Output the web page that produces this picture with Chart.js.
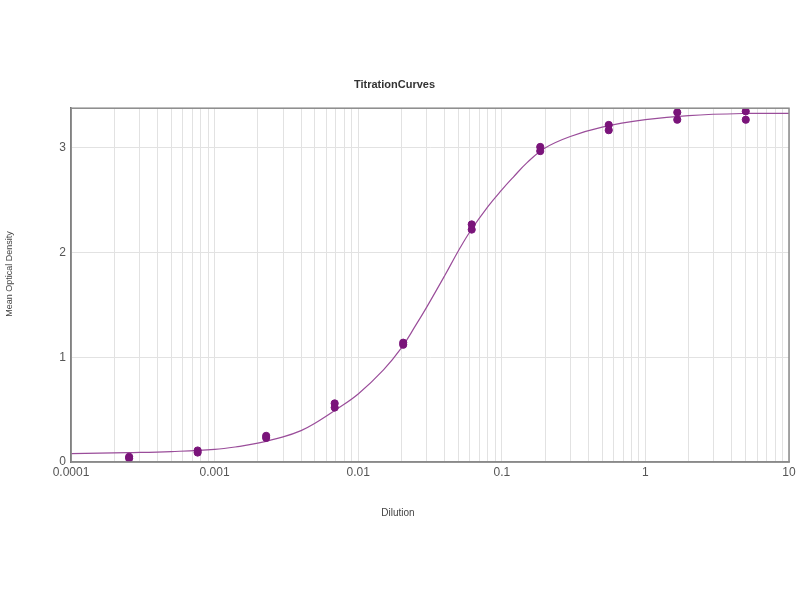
<!DOCTYPE html>
<html>
<head>
<meta charset="utf-8">
<script src="https://cdn.jsdelivr.net/npm/chart.js@4/dist/chart.umd.min.js"></script>
<style>
  html, body { margin:0; padding:0; background:#fff; }
  #wrap { width:800px; height:600px; }
</style>
</head>
<body>
<div id="wrap"><canvas id="c" width="800" height="600"></canvas></div>
<script>
// dilution series (1:3) and the two replicate ODs
const dilutions = [5, 1.667, 0.5556, 0.1852, 0.06173, 0.02058, 0.006859, 0.002286, 0.000762, 0.000254];
const rep1 = [3.35, 3.34, 3.22, 3.01, 2.27, 1.14, 0.56, 0.25, 0.11, 0.05];
const rep2 = [3.27, 3.27, 3.17, 2.97, 2.22, 1.12, 0.52, 0.23, 0.09, 0.035];

// fitted curve
const curveX = [0.0001, 0.00025, 0.0005, 0.001, 0.0015, 0.002, 0.003, 0.004, 0.005, 0.007, 0.01, 0.015, 0.02, 0.025, 0.03, 0.04, 0.05, 0.06, 0.08, 0.1, 0.12, 0.15, 0.2, 0.3, 0.5, 1, 2, 5, 10];
const curveY = [0.08, 0.09, 0.10, 0.12, 0.15, 0.18, 0.24, 0.30, 0.37, 0.50, 0.65, 0.88, 1.09, 1.30, 1.48, 1.78, 2.02, 2.20, 2.44, 2.60, 2.72, 2.86, 3.00, 3.11, 3.20, 3.27, 3.31, 3.33, 3.33];

const decades = [0.0001, 0.001, 0.01, 0.1, 1, 10];
const yTicks = [0, 1, 2, 3];

const points = [];
dilutions.forEach((d,i)=>{
  points.push({x:d, y:rep1[i]});
  points.push({x:d, y:rep2[i]});
});
const curve = curveX.map((x,i)=>({x, y:curveY[i]}));

// grid values: 1..9 in every decade
const gridVals = [];
decades.forEach((d,i)=>{
  if (i === decades.length-1) { gridVals.push(d); return; }
  for (let k=1;k<10;k++) gridVals.push(+(k*d).toPrecision(3));
});

const FONT = 'Liberation Sans, Arial, sans-serif';

// box round the plot plus the two axis titles
const frame = {
  id:'frame',
  afterDatasetsDraw(chart){
    const {ctx, chartArea:a} = chart;
    ctx.save();
    ctx.strokeStyle = '#8a8a8a';
    ctx.lineWidth = 1.5;
    ctx.strokeRect(a.left, a.top, a.right-a.left, a.bottom-a.top);
    ctx.fillStyle = '#444';
    ctx.textAlign = 'center';
    ctx.textBaseline = 'middle';
    ctx.font = '10px ' + FONT;
    ctx.fillText('Dilution', 398, 513);
    ctx.translate(10, 274);
    ctx.rotate(-Math.PI/2);
    ctx.font = '9px ' + FONT;
    ctx.fillText('Mean Optical Density', 0, 0);
    ctx.restore();
  }
};

new Chart(document.getElementById('c'), {
  type:'scatter',
  data:{datasets:[
    {
      type:'line', data:curve, borderColor:'#9a4d9a', borderWidth:1.2,
      pointRadius:0, tension:0.4, fill:false, order:2
    },
    {
      data:points, backgroundColor:'#7a147a', borderColor:'#7a147a',
      pointRadius:3.6, order:1
    }
  ]},
  options:{
    responsive:false, animation:false,
    layout:{padding:{left:0, right:11, top:0, bottom:0}},
    plugins:{
      legend:{display:false}, tooltip:{enabled:false},
      title:{
        display:true, text:'TitrationCurves', color:'#333',
        font:{family:FONT, size:11, weight:'bold'},
        padding:{top:78, bottom:17}
      }
    },
    scales:{
      x:{
        type:'logarithmic', min:0.0001, max:10,
        afterBuildTicks: s => { s.ticks = gridVals.map(v=>({value:v, major:decades.includes(v)})); },
        afterFit: s => { s.height = 138; },
        ticks:{
          autoSkip:false, maxRotation:0, padding:3, color:'#555',
          font:{family:FONT, size:12},
          callback:(v)=> decades.includes(v) ? String(v) : ''
        },
        grid:{color:'#e2e2e2', drawTicks:false},
        border:{color:'#8a8a8a', width:1.5}
      },
      y:{
        min:0, max:3.38,
        afterBuildTicks: s => { s.ticks = yTicks.map(v=>({value:v})); },
        afterFit: s => { s.width = 71; },
        ticks:{
          padding:5, color:'#555',
          font:{family:FONT, size:12}
        },
        grid:{color:'#e2e2e2', drawTicks:false},
        border:{color:'#666', width:1.5}
      }
    }
  },
  plugins:[frame]
});
</script>
</body>
</html>
